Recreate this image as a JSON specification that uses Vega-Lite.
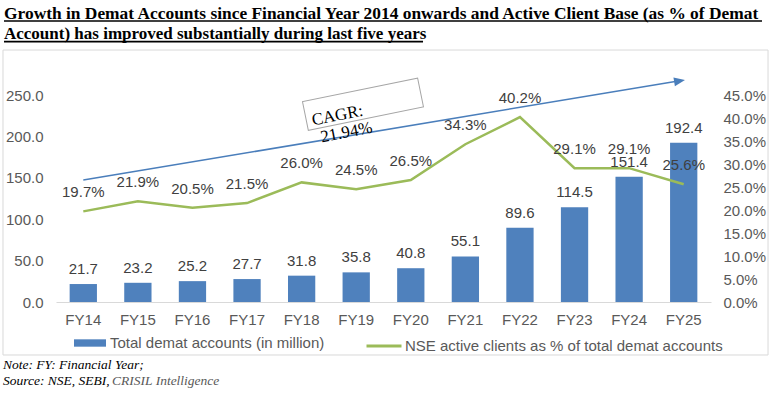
{
  "$schema": "https://vega.github.io/schema/vega-lite/v6.json",
  "width": 655,
  "height": 207,
  "autosize": {"type": "none"},
  "padding": {"left": 56, "top": 95, "right": 67, "bottom": 96},
  "background": "white",
  "config": {"view": {"stroke": null}, "font": "Liberation Sans"},
  "datasets": {
    "fy": [
      {"fy": "FY14", "accounts": 21.7, "pct": 0.197},
      {"fy": "FY15", "accounts": 23.2, "pct": 0.219},
      {"fy": "FY16", "accounts": 25.2, "pct": 0.205},
      {"fy": "FY17", "accounts": 27.7, "pct": 0.215},
      {"fy": "FY18", "accounts": 31.8, "pct": 0.260},
      {"fy": "FY19", "accounts": 35.8, "pct": 0.245},
      {"fy": "FY20", "accounts": 40.8, "pct": 0.265},
      {"fy": "FY21", "accounts": 55.1, "pct": 0.343},
      {"fy": "FY22", "accounts": 89.6, "pct": 0.402},
      {"fy": "FY23", "accounts": 114.5, "pct": 0.291},
      {"fy": "FY24", "accounts": 151.4, "pct": 0.291},
      {"fy": "FY25", "accounts": 192.4, "pct": 0.256}
    ]
  },
  "layer": [
    {
      "data": {"name": "fy"},
      "encoding": {
        "x": {"field": "fy", "type": "nominal", "sort": null,
          "scale": {"paddingInner": 0.5, "paddingOuter": 0.25},
          "axis": {"title": null, "labelAngle": 0, "ticks": false, "domainColor": "#d9d9d9", "grid": false,
            "labelFont": "Liberation Sans", "labelFontSize": 15, "labelColor": "#595959", "labelPadding": 10}},
        "y": {"field": "accounts", "type": "quantitative",
          "scale": {"domain": [0, 250], "nice": false},
          "axis": {"title": null, "values": [0, 50, 100, 150, 200, 250], "format": ".1f", "ticks": false, "domain": false, "grid": false,
            "labelFont": "Liberation Sans", "labelFontSize": 15, "labelColor": "#595959", "labelPadding": 13}}
      },
      "layer": [
        {
          "mark": {"type": "bar"},
          "encoding": {
            "color": {"datum": "Total demat accounts (in million)", "type": "nominal",
              "scale": {"range": ["#4F81BD"]},
              "legend": {"orient": "none", "legendX": 18, "legendY": 232, "title": null,
                "symbolType": "M-1,-0.23L1,-0.23L1,0.23L-1,0.23Z", "symbolSize": 1024, "symbolStrokeWidth": 0,
                "labelFont": "Liberation Sans", "labelFontSize": 15, "labelColor": "#595959", "labelOffset": 4, "labelLimit": 0, "padding": 0}}
          }
        },
        {
          "mark": {"type": "text", "dy": -15, "baseline": "middle", "font": "Liberation Sans", "fontSize": 15, "color": "#404040"},
          "encoding": {"text": {"field": "accounts", "type": "quantitative", "format": ".1f"}}
        }
      ]
    },
    {
      "data": {"name": "fy"},
      "encoding": {
        "x": {"field": "fy", "type": "nominal", "sort": null,
          "scale": {"paddingInner": 0.5, "paddingOuter": 0.25}, "axis": null},
        "y": {"field": "pct", "type": "quantitative",
          "scale": {"domain": [0, 0.45], "nice": false},
          "axis": {"orient": "right", "title": null, "values": [0, 0.05, 0.1, 0.15, 0.2, 0.25, 0.3, 0.35, 0.4, 0.45], "format": ".1%",
            "ticks": false, "domain": false, "grid": false,
            "labelFont": "Liberation Sans", "labelFontSize": 15, "labelColor": "#595959", "labelPadding": 12}}
      },
      "layer": [
        {
          "mark": {"type": "line", "strokeWidth": 2.5},
          "encoding": {
            "stroke": {"datum": "NSE active clients as % of total demat accounts", "type": "nominal",
              "scale": {"range": ["#9BBB59"]},
              "legend": {"orient": "none", "legendX": 309, "legendY": 232, "title": null,
                "symbolType": "stroke", "symbolSize": 1225, "symbolStrokeWidth": 3,
                "labelFont": "Liberation Sans", "labelFontSize": 15, "labelColor": "#595959", "labelOffset": 2, "labelLimit": 0, "padding": 0}}
          }
        },
        {
          "mark": {"type": "text", "dy": -19, "baseline": "middle", "font": "Liberation Sans", "fontSize": 15, "color": "#404040"},
          "encoding": {"text": {"field": "pct", "type": "quantitative", "format": ".1%"}}
        }
      ]
    },
    {
      "data": {"values": [{}]},
      "layer": [
        {
          "mark": {"type": "rect", "fill": "transparent", "stroke": "#d9d9d9", "strokeWidth": 1},
          "encoding": {
            "x": {"datum": -1.471, "type": "quantitative", "scale": {"domain": [-0.5, 11.5], "nice": false, "zero": false}, "axis": null},
            "x2": {"datum": 12.545},
            "y": {"datum": 304.3, "type": "quantitative", "scale": {"domain": [0, 250], "nice": false}, "axis": null},
            "y2": {"datum": -64.0}
          }
        },
        {
          "mark": {"type": "rule", "color": "#4A7EBB", "strokeWidth": 1.5},
          "encoding": {
            "x": {"datum": 0, "type": "quantitative", "scale": {"domain": [-0.5, 11.5], "nice": false, "zero": false}, "axis": null},
            "x2": {"datum": 10.9},
            "y": {"datum": 147.3, "type": "quantitative", "scale": {"domain": [0, 250], "nice": false}, "axis": null},
            "y2": {"datum": 266.9}
          }
        },
        {
          "mark": {"type": "point", "shape": "M0,0L-2,-0.8L-2,0.8Z", "size": 121, "angle": 350.6, "filled": true, "color": "#4A7EBB", "opacity": 1, "strokeWidth": 0},
          "encoding": {
            "x": {"datum": 11.024, "type": "quantitative", "scale": {"domain": [-0.5, 11.5], "nice": false, "zero": false}, "axis": null},
            "y": {"datum": 268.1, "type": "quantitative", "scale": {"domain": [0, 250], "nice": false}, "axis": null}
          }
        },
        {
          "mark": {"type": "point", "shape": "M-1,-0.25L1,-0.25L1,0.25L-1,0.25Z", "size": 13806, "angle": 348.5, "filled": false, "stroke": "#a6a6a6", "strokeWidth": 1, "opacity": 1},
          "encoding": {
            "x": {"datum": 5.124, "type": "quantitative", "scale": {"domain": [-0.5, 11.5], "nice": false, "zero": false}, "axis": null},
            "y": {"datum": 238.8, "type": "quantitative", "scale": {"domain": [0, 250], "nice": false}, "axis": null}
          }
        },
        {
          "mark": {"type": "text", "angle": 349, "align": "center", "baseline": "middle", "font": "Liberation Serif", "fontSize": 17, "color": "#000000"},
          "encoding": {
            "x": {"datum": 4.657, "type": "quantitative", "scale": {"domain": [-0.5, 11.5], "nice": false, "zero": false}, "axis": null},
            "y": {"datum": 225.2, "type": "quantitative", "scale": {"domain": [0, 250], "nice": false}, "axis": null},
            "text": {"value": "CAGR:"}
          }
        },
        {
          "mark": {"type": "text", "angle": 349, "align": "center", "baseline": "middle", "font": "Liberation Serif", "fontSize": 17, "color": "#000000"},
          "encoding": {
            "x": {"datum": 4.822, "type": "quantitative", "scale": {"domain": [-0.5, 11.5], "nice": false, "zero": false}, "axis": null},
            "y": {"datum": 204.7, "type": "quantitative", "scale": {"domain": [0, 250], "nice": false}, "axis": null},
            "text": {"value": "21.94%"}
          }
        },
        {
          "mark": {"type": "text", "align": "left", "baseline": "alphabetic", "font": "Liberation Serif", "fontSize": 17.4, "fontWeight": "bold", "color": "#000000"},
          "encoding": {
            "x": {"datum": -1.4527, "type": "quantitative", "scale": {"domain": [-0.5, 11.5], "nice": false, "zero": false}, "axis": null},
            "y": {"datum": 341.8, "type": "quantitative", "scale": {"domain": [0, 250], "nice": false}, "axis": null},
            "text": {"value": "Growth in Demat Accounts since Financial Year 2014 onwards and Active Client Base (as % of Demat"}
          }
        },
        {
          "mark": {"type": "text", "align": "left", "baseline": "alphabetic", "font": "Liberation Serif", "fontSize": 17, "fontWeight": "bold", "color": "#000000"},
          "encoding": {
            "x": {"datum": -1.4527, "type": "quantitative", "scale": {"domain": [-0.5, 11.5], "nice": false, "zero": false}, "axis": null},
            "y": {"datum": 317.3, "type": "quantitative", "scale": {"domain": [0, 250], "nice": false}, "axis": null},
            "text": {"value": "Account) has improved substantially during last five years"}
          }
        },
        {
          "mark": {"type": "rule", "color": "#000000", "strokeWidth": 1.7},
          "encoding": {
            "x": {"datum": -1.4527, "type": "quantitative", "scale": {"domain": [-0.5, 11.5], "nice": false, "zero": false}, "axis": null},
            "x2": {"datum": 12.434},
            "y": {"datum": 339.4, "type": "quantitative", "scale": {"domain": [0, 250], "nice": false}, "axis": null}
          }
        },
        {
          "mark": {"type": "rule", "color": "#000000", "strokeWidth": 1.7},
          "encoding": {
            "x": {"datum": -1.4527, "type": "quantitative", "scale": {"domain": [-0.5, 11.5], "nice": false, "zero": false}, "axis": null},
            "x2": {"datum": 6.224},
            "y": {"datum": 314.4, "type": "quantitative", "scale": {"domain": [0, 250], "nice": false}, "axis": null}
          }
        },
        {
          "mark": {"type": "text", "align": "left", "baseline": "alphabetic", "font": "Liberation Serif", "fontSize": 13.5, "fontStyle": "italic", "color": "#000000"},
          "encoding": {
            "x": {"datum": -1.471, "type": "quantitative", "scale": {"domain": [-0.5, 11.5], "nice": false, "zero": false}, "axis": null},
            "y": {"datum": -81.5, "type": "quantitative", "scale": {"domain": [0, 250], "nice": false}, "axis": null},
            "text": {"value": "Note: FY: Financial Year;"}
          }
        },
        {
          "mark": {"type": "text", "align": "left", "baseline": "alphabetic", "font": "Liberation Serif", "fontSize": 13.5, "fontStyle": "italic", "color": "#000000"},
          "encoding": {
            "x": {"datum": -1.471, "type": "quantitative", "scale": {"domain": [-0.5, 11.5], "nice": false, "zero": false}, "axis": null},
            "y": {"datum": -100.2, "type": "quantitative", "scale": {"domain": [0, 250], "nice": false}, "axis": null},
            "text": {"value": "Source: NSE, SEBI,"}
          }
        },
        {
          "mark": {"type": "text", "align": "left", "baseline": "alphabetic", "font": "Liberation Serif", "fontSize": 13.5, "fontStyle": "italic", "color": "#595959"},
          "encoding": {
            "x": {"datum": 0.526, "type": "quantitative", "scale": {"domain": [-0.5, 11.5], "nice": false, "zero": false}, "axis": null},
            "y": {"datum": -100.2, "type": "quantitative", "scale": {"domain": [0, 250], "nice": false}, "axis": null},
            "text": {"value": "CRISIL Intelligence"}
          }
        }
      ]
    }
  ],
  "resolve": {"scale": {"x": "independent", "y": "independent"}}
}
